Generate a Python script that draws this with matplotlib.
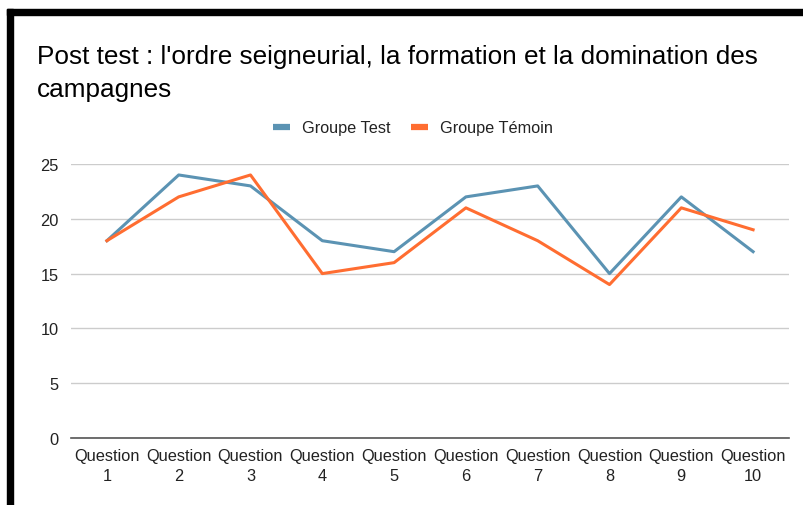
import matplotlib
matplotlib.use("Agg")
import matplotlib.pyplot as plt
from matplotlib.patches import Rectangle

# Donnees du graphique
questions = ["Question\n1", "Question\n2", "Question\n3", "Question\n4", "Question\n5",
             "Question\n6", "Question\n7", "Question\n8", "Question\n9", "Question\n10"]
groupe_test = [18, 24, 23, 18, 17, 22, 23, 15, 22, 17]
groupe_temoin = [18, 22, 24, 15, 16, 21, 18, 14, 21, 19]
yticks = [0, 5, 10, 15, 20, 25]

plt.rcParams["font.family"] = ["Liberation Sans", "DejaVu Sans"]

W, H = 804, 506
fig = plt.figure(figsize=(W / 100, H / 100), dpi=100)
ax = fig.add_axes([71 / W, 1 - 439 / H, (789 - 71) / W, (439 - 165) / H])

x = list(range(len(questions)))
ax.plot(x, groupe_test, color="#5b93b3", lw=2.2, label="Groupe Test")
ax.plot(x, groupe_temoin, color="#ff6d31", lw=2.2, label="Groupe Témoin")

ax.set_xlim(-0.5, len(questions) - 0.5)
ax.set_ylim(0, 25)
ax.set_yticks(yticks)
ax.set_xticks(x)
ax.set_xticklabels(questions, fontsize=11.8, color="#222222", linespacing=1.45)
ax.tick_params(axis="y", labelsize=11.8, labelcolor="#222222", length=0, pad=9)
ax.tick_params(axis="x", length=0, pad=7)
ax.grid(axis="y", color="#cccccc", lw=1)
ax.set_axisbelow(True)
for s in ["top", "right", "left"]:
    ax.spines[s].set_visible(False)
ax.spines["bottom"].set_color("#555555")
ax.spines["bottom"].set_linewidth(1.2)

# Legende
leg = fig.legend(loc="center", bbox_to_anchor=(413 / W, 1 - 129 / H), ncol=2, frameon=False,
                 fontsize=11.7, handlelength=1.0, handletextpad=0.75, columnspacing=1.3,
                 labelcolor="#222222")
for h in leg.legend_handles:
    h.set_linewidth(4.5)
    h.set_solid_capstyle("butt")

# Titre
fig.text(37 / W, 1 - 45 / H, "Post test : l'ordre seigneurial, la formation et la domination des\ncampagnes",
         fontsize=18.8, va="top", ha="left", color="black", linespacing=1.5)

# Bordure noire
fig.patches.append(Rectangle((7 / W, 0), 6 / W, 1 - 10 / H, transform=fig.transFigure,
                             color="black", zorder=5))
fig.patches.append(Rectangle((7 / W, 1 - 16 / H), 1 - 7 / W, 6 / H, transform=fig.transFigure,
                             color="black", zorder=5))

fig.savefig("out.png", dpi=100)
